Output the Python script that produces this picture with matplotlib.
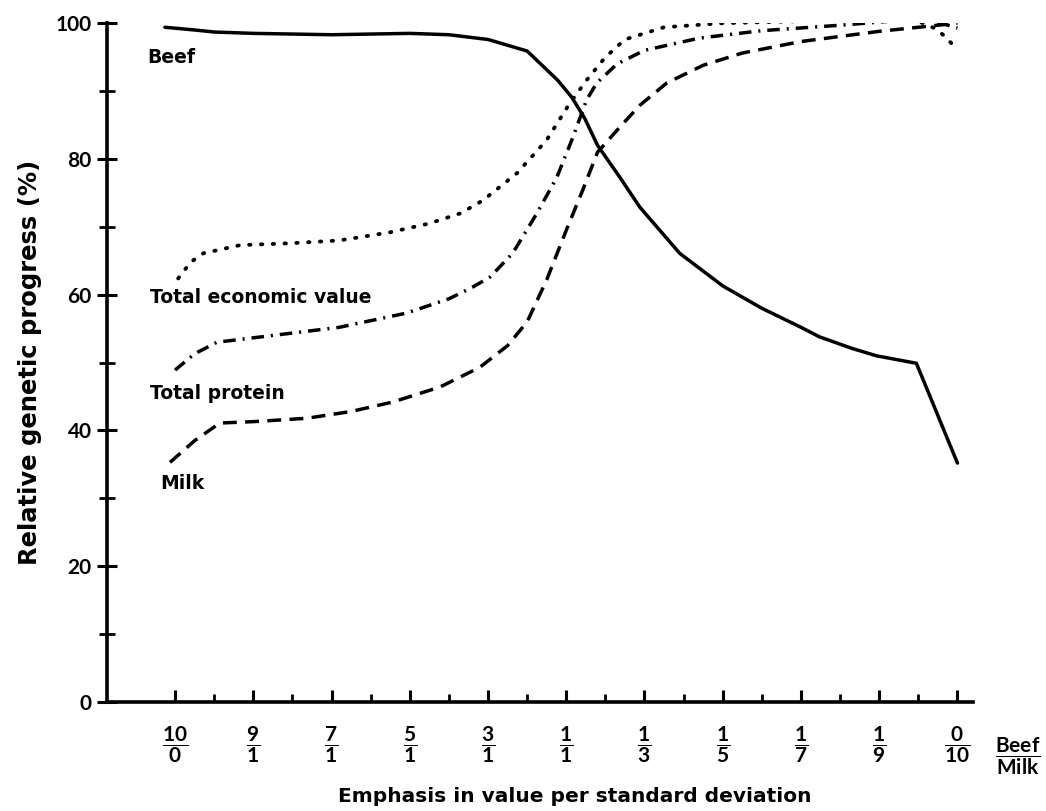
import matplotlib
matplotlib.use("Agg")
import matplotlib.pyplot as plt

plt.rcParams["font.family"] = ["DejaVu Sans"]
plt.rcParams["mathtext.fontset"] = "custom"
plt.rcParams["mathtext.rm"] = "Lato:bold"
plt.rcParams["mathtext.it"] = "Lato:bold"
plt.rcParams["mathtext.bf"] = "Lato:bold"
plt.rcParams["lines.scale_dashes"] = False

# x positions are tick indices (0 = 10/0 ... 20 = 0/10)
ratio_labels = ["10/0", "9/1", "7/1", "5/1", "3/1", "1/1", "1/3", "1/5", "1/7", "1/9", "0/10"]

beef_x = [-0.26, 0.5, 1.0, 2.0, 4.0, 6.0, 7.0, 8.0, 9.0, 9.78, 10.14, 10.47, 10.8,
          11.37, 11.88, 12.9, 14.0, 15.0, 16.0, 16.47, 17.3, 17.93, 18.95, 20.0]
beef_y = [99.4, 99.0, 98.7, 98.5, 98.3, 98.5, 98.3, 97.6, 95.9, 91.6, 89.1, 86.0, 82.0,
          77.3, 72.9, 66.1, 61.3, 58.0, 55.2, 53.8, 52.1, 51.0, 49.9, 35.2]

milk_x = [-0.13, 0.5, 1.07, 1.15, 2.0, 3.37, 4.5, 5.57, 6.77, 7.79, 8.5, 9.0, 9.5,
          10.0, 10.42, 10.8, 11.37, 11.88, 12.57, 13.5, 14.5, 16.0, 18.0, 19.0, 20.0]
milk_y = [35.3, 38.5, 40.8, 41.1, 41.3, 41.8, 42.8, 44.2, 46.4, 49.3, 52.5, 56.0, 62.2,
          69.5, 75.4, 81.0, 84.7, 87.9, 91.2, 93.8, 95.6, 97.3, 98.8, 99.4, 100.0]

econ_x = [0.08, 0.4, 0.72, 1.66, 3.0, 4.21, 5.5, 6.5, 7.3, 7.87, 8.74, 9.5, 10.09,
          10.52, 11.0, 11.5, 12.5, 14.0, 16.0, 18.0, 19.0, 19.4, 19.7, 20.0]
econ_y = [62.4, 64.8, 66.1, 67.3, 67.6, 68.0, 69.2, 70.5, 72.0, 73.9, 77.9, 82.8, 88.2,
          91.6, 95.0, 97.6, 99.4, 100.0, 100.3, 100.4, 100.3, 99.3, 98.0, 96.0]

prot_x = [0.0, 0.5, 1.07, 2.5, 4.2, 5.92, 7.0, 7.6, 8.05, 8.63, 9.25, 9.76, 10.17,
          10.52, 10.78, 11.3, 12.0, 13.4, 15.0, 17.0, 18.5, 19.4, 20.0]
prot_y = [48.9, 51.3, 53.0, 54.0, 55.2, 57.3, 59.4, 61.1, 62.6, 66.1, 72.0, 77.3, 83.2,
          88.7, 91.2, 94.0, 96.0, 97.8, 98.9, 99.7, 100.4, 100.3, 99.3]

fig = plt.figure(figsize=(10.46, 8.11), dpi=100)
ax = fig.add_axes([0.1023, 0.1344, 0.828, 0.837])

lw = 2.5
ax.plot(beef_x, beef_y, color="black", lw=lw, solid_capstyle="round")
ax.plot(milk_x, milk_y, color="black", lw=lw, linestyle=(0, (10, 6)))
ax.plot(econ_x, econ_y, color="black", lw=lw * 1.1, linestyle=(0, (1.0, 7.5)),
        dash_capstyle="round")
ax.plot(prot_x, prot_y, color="black", lw=lw, linestyle=(0, (9, 5, 1.5, 5)))

txt = dict(fontsize=13.5, fontweight="bold", color="black", va="center", ha="left")
ax.text(-0.72, 95.0, "Beef", **txt)
ax.text(-0.64, 59.6, "Total economic value", **txt)
ax.text(-0.64, 45.5, "Total protein", **txt)
ax.text(-0.38, 32.2, "Milk", **txt)

ax.set_xlim(-1.74, 20.4)
ax.set_ylim(0, 100)
ax.spines["top"].set_visible(False)
ax.spines["right"].set_visible(False)
for s in ("left", "bottom"):
    ax.spines[s].set_linewidth(2.6)

ax.set_yticks(range(0, 101, 20))
ax.set_yticks(range(10, 100, 20), minor=True)
ax.set_xticks(range(0, 21, 2))
ax.set_xticks(range(1, 21, 2), minor=True)

frac_labels = []
for lab in ratio_labels:
    a, b = lab.split("/")
    frac_labels.append(r"$\dfrac{%s}{%s}$" % (a, b))
ax.set_xticklabels(frac_labels, fontsize=15)
ax.set_yticklabels([str(v) for v in range(0, 101, 20)], fontsize=15, fontweight="bold",
                   family="Lato")

ax.tick_params(axis="y", which="major", direction="inout", length=14, width=2.2, pad=4)
ax.tick_params(axis="y", which="minor", direction="inout", length=12, width=2.0)
ax.tick_params(axis="x", which="major", direction="in", length=9, width=2.2, pad=16)
ax.tick_params(axis="x", which="minor", direction="in", length=6, width=2.0)

ax.text(20.95, -8.0, r"$\dfrac{\mathrm{Beef}}{\mathrm{Milk}}$", fontsize=15,
        ha="left", va="center", clip_on=False)

ax.set_ylabel("Relative genetic progress (%)", fontsize=17.5, fontweight="bold")
ax.yaxis.set_label_coords(-0.075, (702 - 362) / 679)
ax.set_xlabel("Emphasis in value per standard deviation", fontsize=14.5,
              fontweight="bold")
ax.xaxis.set_label_coords((575 - 107) / (973 - 107), -0.125)

fig.savefig("out.png", dpi=100)
